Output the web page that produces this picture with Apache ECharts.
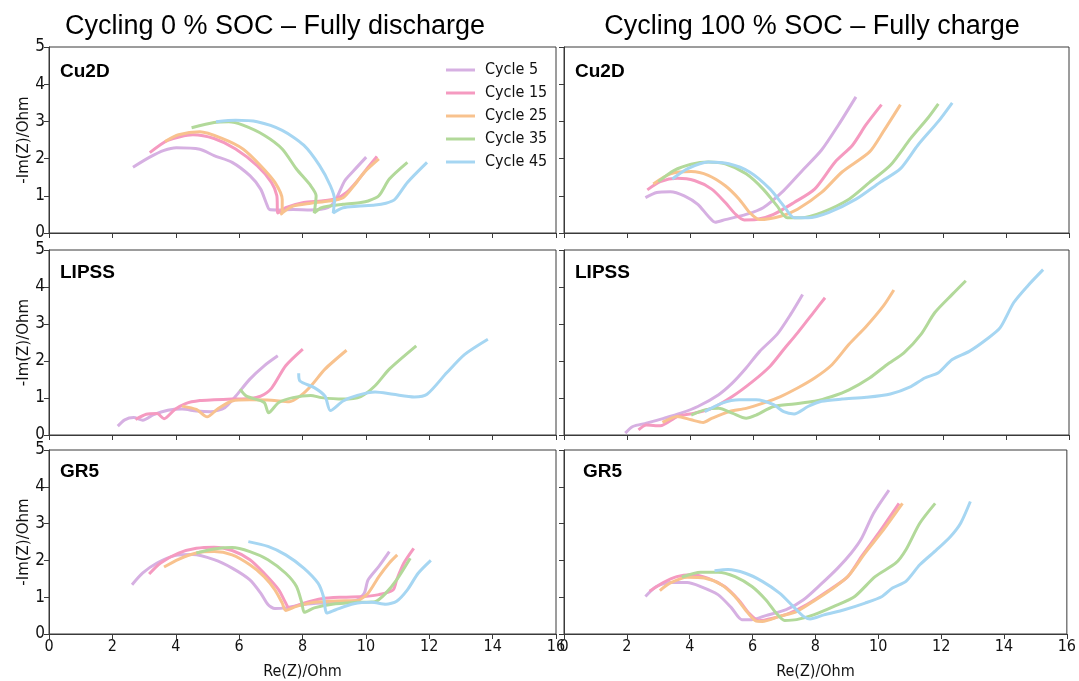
<!DOCTYPE html>
<html>
<head>
<meta charset="utf-8">
<script src="https://cdn.jsdelivr.net/npm/echarts@6/dist/echarts.min.js"></script>
<style>html,body{margin:0;padding:0;background:#fff}#main{width:1079px;height:681px}</style>
</head>
<body>
<div id="main"></div>
<script>
// ---- Data (Re(Z), -Im(Z)) in Ohm ----
const seriesNames = ['Cycle 5', 'Cycle 15', 'Cycle 25', 'Cycle 35', 'Cycle 45'];
const panelLabels = ['Cu2D', 'LIPSS', 'GR5'];
const columnTitles = ['Cycling 0 % SOC \u2013 Fully discharge', 'Cycling 100 % SOC \u2013 Fully charge'];
const xTicks = [0, 2, 4, 6, 8, 10, 12, 14, 16];
const yTicks = [0, 1, 2, 3, 4, 5];

// Cu2D, 0 % SOC
const cu2dDis5 = [[2.65,1.77],[3.18,2.04],[3.63,2.22],[4.02,2.29],[4.76,2.25],[5.21,2.08],[5.78,1.90],[6.34,1.54],[6.68,1.18],[6.85,0.82],[6.96,0.63],[7.19,0.62],[7.7,0.63],[8.26,0.62],[8.8,0.68],[9.05,0.9],[9.33,1.40],[9.62,1.68],[10.01,2.04]];
const cu2dDis15 = [[3.18,2.16],[3.75,2.49],[4.54,2.64],[5.21,2.54],[5.89,2.26],[6.57,1.81],[7.02,1.36],[7.19,1.0],[7.22,0.54],[7.47,0.68],[8.04,0.82],[8.6,0.86],[9.05,0.92],[9.39,1.09],[9.73,1.40],[10.07,1.77],[10.35,2.06]];
const cu2dDis25 = [[3.66,2.46],[4.09,2.64],[4.76,2.72],[5.44,2.55],[6.12,2.26],[6.68,1.81],[7.13,1.36],[7.36,0.9],[7.36,0.54],[7.30,0.50],[7.7,0.72],[8.26,0.80],[8.83,0.86],[9.28,0.95],[9.62,1.27],[9.95,1.63],[10.41,1.99]];
const cu2dDis35 = [[4.50,2.83],[5.21,2.97],[5.67,2.99],[6.12,2.90],[6.79,2.63],[7.36,2.26],[7.81,1.72],[8.26,1.27],[8.43,1.0],[8.37,0.54],[8.6,0.68],[9.28,0.77],[9.84,0.82],[10.07,0.86],[10.41,1.0],[10.74,1.45],[11.31,1.90]];
const cu2dDis45 = [[5.27,2.99],[5.89,3.03],[6.57,2.99],[7.36,2.76],[8.04,2.36],[8.54,1.81],[8.88,1.27],[9.01,0.9],[8.97,0.54],[9.28,0.68],[9.73,0.72],[10.29,0.75],[10.63,0.80],[10.91,0.9],[11.31,1.36],[11.93,1.90]];

// Cu2D, 100 % SOC
const cu2dChg5 = [[2.58,0.95],[2.94,1.09],[3.37,1.11],[3.81,1.0],[4.24,0.77],[4.57,0.45],[4.79,0.29],[5.11,0.36],[5.77,0.5],[6.31,0.68],[6.96,1.14],[7.51,1.64],[8.16,2.23],[8.70,2.91],[9.25,3.66]];
const cu2dChg15 = [[2.64,1.16],[3.05,1.38],[3.59,1.47],[4.13,1.41],[4.68,1.18],[5.11,0.82],[5.44,0.5],[5.71,0.35],[6.09,0.36],[6.64,0.5],[7.29,0.82],[7.94,1.18],[8.59,1.91],[9.14,2.36],[9.57,2.91],[10.06,3.45]];
const cu2dChg25 = [[2.83,1.32],[3.37,1.59],[4.03,1.65],[4.57,1.55],[5.11,1.27],[5.55,0.91],[5.88,0.55],[6.20,0.36],[6.86,0.45],[7.40,0.64],[8.16,1.09],[8.81,1.64],[9.68,2.18],[10.12,2.73],[10.66,3.45]];
const cu2dChg35 = [[2.99,1.38],[3.48,1.68],[4.03,1.85],[4.57,1.91],[5.11,1.86],[5.77,1.59],[6.31,1.18],[6.75,0.73],[7.07,0.41],[7.51,0.41],[8.16,0.55],[9.03,0.91],[9.68,1.36],[10.34,1.82],[10.99,2.55],[11.53,3.09],[11.86,3.47]];
const cu2dChg45 = [[3.43,1.45],[3.92,1.73],[4.57,1.91],[5.22,1.86],[5.88,1.64],[6.53,1.18],[6.96,0.73],[7.29,0.41],[7.73,0.41],[8.38,0.55],[9.25,0.91],[10.01,1.36],[10.66,1.73],[11.21,2.36],[11.86,3.0],[12.30,3.5]];

// LIPSS, 0 % SOC
const lipssDis5 = [[2.17,0.24],[2.39,0.41],[2.67,0.47],[2.96,0.40],[3.30,0.55],[3.75,0.67],[4.20,0.70],[4.65,0.65],[5.10,0.63],[5.55,0.74],[5.89,1.05],[6.34,1.51],[6.79,1.87],[7.22,2.14]];
const lipssDis15 = [[2.73,0.42],[3.07,0.56],[3.41,0.58],[3.63,0.44],[3.97,0.69],[4.31,0.85],[4.76,0.93],[5.21,0.95],[5.78,0.97],[6.34,0.99],[6.68,1.05],[7.02,1.26],[7.47,1.87],[8.01,2.32]];
const lipssDis25 = [[4.20,0.78],[4.65,0.69],[4.99,0.49],[5.33,0.71],[5.78,0.92],[6.34,0.95],[7.02,0.94],[7.58,0.90],[7.92,1.05],[8.26,1.32],[8.71,1.78],[9.39,2.29]];
const lipssDis35 = [[6.03,1.24],[6.23,1.05],[6.79,0.88],[6.93,0.60],[7.25,0.88],[7.70,1.01],[8.26,1.07],[8.6,1.01],[9.28,0.97],[9.84,1.04],[10.29,1.33],[10.74,1.78],[11.59,2.41]];
const lipssDis45 = [[7.88,1.67],[7.92,1.46],[8.37,1.28],[8.71,1.05],[8.88,0.66],[9.28,0.92],[9.73,1.07],[10.29,1.16],[10.86,1.10],[11.53,1.03],[11.93,1.10],[12.55,1.68],[13.12,2.18],[13.85,2.59]];

// LIPSS, 100 % SOC
const lipssChg5 = [[1.94,0.05],[2.18,0.23],[2.61,0.32],[3.16,0.45],[3.70,0.59],[4.24,0.77],[4.90,1.09],[5.33,1.40],[5.77,1.81],[6.20,2.26],[6.75,2.72],[7.18,3.26],[7.56,3.80]];
const lipssChg15 = [[2.36,0.14],[2.61,0.27],[3.05,0.25],[3.59,0.50],[4.13,0.59],[4.68,0.72],[5.33,1.04],[5.98,1.45],[6.53,1.86],[6.96,2.31],[7.40,2.76],[7.94,3.35],[8.27,3.71]];
const lipssChg25 = [[3.12,0.34],[3.59,0.50],[4.03,0.41],[4.41,0.34],[4.68,0.45],[5.22,0.63],[5.77,0.72],[6.31,0.86],[6.86,1.04],[7.40,1.27],[7.94,1.54],[8.49,1.90],[9.03,2.45],[9.58,2.94],[10.12,3.49],[10.45,3.92]];
const lipssChg35 = [[4.03,0.54],[4.46,0.68],[4.90,0.72],[5.33,0.59],[5.77,0.45],[6.09,0.54],[6.64,0.77],[7.29,0.84],[7.94,0.91],[8.49,1.04],[9.03,1.22],[9.68,1.54],[10.23,1.90],[10.77,2.22],[11.31,2.72],[11.75,3.31],[12.30,3.80],[12.73,4.17]];
const lipssChg45 = [[4.46,0.63],[5.01,0.86],[5.55,0.95],[6.09,0.95],[6.64,0.82],[6.96,0.63],[7.29,0.57],[7.73,0.77],[8.16,0.91],[8.81,0.97],[9.58,1.02],[10.34,1.11],[10.99,1.31],[11.43,1.54],[11.86,1.68],[12.30,2.04],[12.84,2.26],[13.38,2.58],[13.82,2.90],[14.25,3.58],[14.69,4.03],[15.18,4.47]];

// GR5, 0 % SOC
const gr5Dis5 = [[2.62,1.34],[2.96,1.66],[3.41,1.93],[3.97,2.13],[4.54,2.16],[5.21,2.02],[5.78,1.79],[6.34,1.47],[6.68,1.11],[6.91,0.80],[7.13,0.69],[7.47,0.71],[8.04,0.80],[8.60,0.84],[9.28,0.86],[9.73,0.93],[9.95,1.11],[10.07,1.47],[10.41,1.84],[10.74,2.24]];
const gr5Dis15 = [[3.16,1.63],[3.52,1.93],[4.09,2.20],[4.65,2.33],[5.21,2.36],[5.78,2.27],[6.34,2.02],[6.79,1.65],[7.25,1.20],[7.47,0.84],[7.58,0.71],[8.04,0.84],[8.60,0.96],[9.28,1.00],[9.95,1.02],[10.41,1.07],[10.86,1.20],[10.97,1.47],[11.20,1.93],[11.51,2.33]];
const gr5Dis25 = [[3.63,1.82],[4.09,2.03],[4.65,2.20],[5.21,2.24],[5.78,2.15],[6.34,1.88],[6.79,1.56],[7.13,1.20],[7.36,0.84],[7.47,0.64],[7.81,0.75],[8.37,0.86],[9.05,0.90],[9.73,0.91],[10.07,1.11],[10.41,1.56],[10.74,1.93],[10.99,2.15]];
const gr5Dis35 = [[4.65,2.20],[5.21,2.31],[5.78,2.35],[6.34,2.24],[6.91,2.02],[7.47,1.65],[7.81,1.29],[7.98,0.84],[8.06,0.59],[8.37,0.71],[8.94,0.81],[9.73,0.86],[10.29,0.88],[10.63,1.11],[10.97,1.47],[11.40,2.06]];
const gr5Dis45 = [[6.29,2.51],[6.91,2.38],[7.47,2.15],[8.04,1.79],[8.49,1.38],[8.66,1.02],[8.77,0.57],[9.05,0.66],[9.62,0.82],[10.18,0.86],[10.63,0.81],[10.97,0.89],[11.31,1.20],[11.65,1.65],[12.05,2.0]];

// GR5, 100 % SOC
const gr5Chg5 = [[2.59,1.02],[2.94,1.29],[3.37,1.40],[3.92,1.40],[4.35,1.29],[4.90,1.07],[5.33,0.71],[5.66,0.39],[5.98,0.39],[6.42,0.50],[7.07,0.66],[7.62,0.93],[8.16,1.34],[8.71,1.79],[9.14,2.20],[9.47,2.60],[9.85,3.28],[10.34,3.91]];
const gr5Chg15 = [[2.72,1.16],[3.16,1.40],[3.59,1.56],[4.03,1.61],[4.57,1.52],[5.11,1.29],[5.55,0.93],[5.88,0.57],[6.20,0.36],[6.64,0.43],[7.18,0.57],[7.73,0.80],[8.38,1.16],[9.03,1.56],[9.47,2.11],[10.01,2.74],[10.66,3.55]];
const gr5Chg25 = [[3.05,1.18],[3.37,1.38],[3.92,1.54],[4.46,1.52],[5.01,1.34],[5.44,1.02],[5.77,0.66],[6.09,0.36],[6.31,0.34],[6.86,0.48],[7.40,0.61],[7.94,0.89],[8.49,1.20],[9.03,1.56],[9.58,2.20],[10.12,2.78],[10.77,3.55]];
const gr5Chg35 = [[3.75,1.55],[4.35,1.68],[4.90,1.68],[5.44,1.56],[5.98,1.29],[6.42,0.93],[6.75,0.57],[7.02,0.37],[7.40,0.39],[7.94,0.52],[8.59,0.75],[9.25,1.02],[9.90,1.56],[10.56,1.93],[10.88,2.29],[11.32,3.01],[11.81,3.55]];
const gr5Chg45 = [[4.79,1.72],[5.22,1.75],[5.77,1.65],[6.31,1.43],[6.86,1.11],[7.29,0.75],[7.62,0.48],[7.83,0.41],[8.27,0.52],[8.92,0.66],[9.58,0.84],[10.12,1.02],[10.45,1.25],[10.88,1.43],[11.32,1.88],[11.86,2.29],[12.30,2.65],[12.62,3.01],[12.93,3.60]];

const panelData = [
  [cu2dDis5, cu2dDis15, cu2dDis25, cu2dDis35, cu2dDis45],
  [cu2dChg5, cu2dChg15, cu2dChg25, cu2dChg35, cu2dChg45],
  [lipssDis5, lipssDis15, lipssDis25, lipssDis35, lipssDis45],
  [lipssChg5, lipssChg15, lipssChg25, lipssChg35, lipssChg45],
  [gr5Dis5, gr5Dis15, gr5Dis25, gr5Dis35, gr5Dis45],
  [gr5Chg5, gr5Chg15, gr5Chg25, gr5Chg35, gr5Chg45]
];

// ---- Styles / layout ----
const colors = ['#d6b0e2', '#f59ac0', '#f8c28e', '#b2d99a', '#a6d6f2'];
const colLeft = [49, 564];
const colWidth = [507, 505];
const rowTop = [47, 250, 450];
const rowHeight = [186, 185, 184];
const labelOffset = [15, 13, 12];
const axisColor = '#3a3a3a';
const tickFont = 'DejaVu Sans Condensed, DejaVu Sans';

const grids = [], xAxes = [], yAxes = [], series = [], titles = [];
for (let r = 0; r < 3; r++) {
  for (let c = 0; c < 2; c++) {
    const idx = r * 2 + c;
    grids.push({
      left: colLeft[c], top: rowTop[r], width: colWidth[c], height: rowHeight[r],
      show: true, borderColor: axisColor, borderWidth: 1, backgroundColor: '#fff'
    });
    xAxes.push({
      type: 'value', gridIndex: idx, min: xTicks[0], max: xTicks[xTicks.length - 1], interval: 2,
      axisLine: { show: true, onZero: false, lineStyle: { color: axisColor, width: 1 } },
      axisTick: { show: true, length: 5, lineStyle: { color: axisColor } },
      splitLine: { show: false },
      axisLabel: { show: r === 2, color: '#111', fontFamily: tickFont, fontSize: 16, margin: 5, showMaxLabel: true, showMinLabel: true },
      name: r === 2 ? 'Re(Z)/Ohm' : '', nameLocation: 'middle', nameGap: 30,
      nameTextStyle: { color: '#111', fontFamily: tickFont, fontSize: 16 }
    });
    yAxes.push({
      type: 'value', gridIndex: idx, min: yTicks[0], max: yTicks[yTicks.length - 1], interval: 1,
      axisLine: { show: true, onZero: false, lineStyle: { color: axisColor, width: 1 } },
      axisTick: { show: true, length: 5, lineStyle: { color: axisColor } },
      splitLine: { show: false },
      axisLabel: { show: c === 0, color: '#111', fontFamily: tickFont, fontSize: 17, margin: 4 },
      name: c === 0 ? '-Im(Z)/Ohm' : '', nameLocation: 'middle', nameGap: 17,
      nameTextStyle: { color: '#111', fontFamily: 'DejaVu Sans', fontSize: 15 }
    });
    panelData[idx].forEach((d, s) => {
      series.push({
        name: seriesNames[s], type: 'line', xAxisIndex: idx, yAxisIndex: idx,
        data: d, showSymbol: false, symbol: 'none', smooth: 0.25,
        lineStyle: { color: colors[s], width: 3 }, itemStyle: { color: colors[s] },
        clip: true, z: 2 + s, animation: false
      });
    });
    const labelX = (r === 2 && c === 1) ? colLeft[c] + 19 : colLeft[c] + 11;
    titles.push({
      text: panelLabels[r], left: labelX, top: rowTop[r] + labelOffset[r], padding: 0,
      textStyle: { fontFamily: 'Liberation Sans, Arial', fontWeight: 'bold', fontSize: 19, color: '#000' }
    });
  }
}
titles.push({ text: columnTitles[0], left: 275, textAlign: 'center', top: 13, padding: 0,
  textStyle: { fontFamily: 'Liberation Sans, Arial', fontWeight: 'normal', fontSize: 27, color: '#000' } });
titles.push({ text: columnTitles[1], left: 812, textAlign: 'center', top: 13, padding: 0,
  textStyle: { fontFamily: 'Liberation Sans, Arial', fontWeight: 'normal', fontSize: 27, color: '#000' } });

const chart = echarts.init(document.getElementById('main'), null, { renderer: 'canvas' });
chart.setOption({
  animation: false,
  backgroundColor: '#fff',
  title: titles,
  legend: {
    data: seriesNames, orient: 'vertical', left: 446, top: 62, padding: 0,
    icon: 'rect', itemWidth: 29, itemHeight: 3, itemGap: 7,
    textStyle: { fontFamily: tickFont, fontSize: 16, color: '#111', lineHeight: 16, padding: [0, 0, 0, 5] }
  },
  grid: grids,
  xAxis: xAxes,
  yAxis: yAxes,
  series: series
});
</script>
</body>
</html>
